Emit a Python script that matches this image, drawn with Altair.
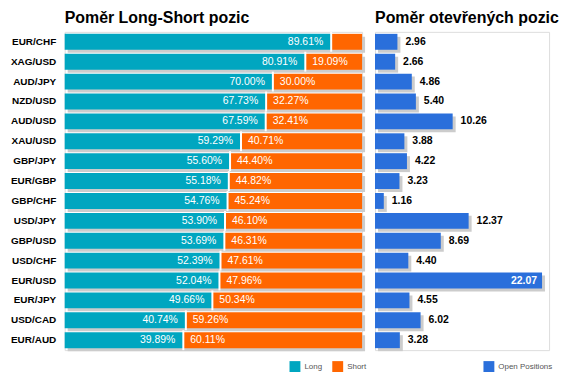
import altair as alt
import pandas as pd

pairs = ["EUR/CHF", "XAG/USD", "AUD/JPY", "NZD/USD", "AUD/USD", "XAU/USD", "GBP/JPY", "EUR/GBP",
         "GBP/CHF", "USD/JPY", "GBP/USD", "USD/CHF", "EUR/USD", "EUR/JPY", "USD/CAD", "EUR/AUD"]
long_pct = [89.61, 80.91, 70.00, 67.73, 67.59, 59.29, 55.60, 55.18,
            54.76, 53.90, 53.69, 52.39, 52.04, 49.66, 40.74, 39.89]
short_pct = [10.39, 19.09, 30.00, 32.27, 32.41, 40.71, 44.40, 44.82,
             45.24, 46.10, 46.31, 47.61, 47.96, 50.34, 59.26, 60.11]
open_pos = [2.96, 2.66, 4.86, 5.40, 10.26, 3.88, 4.22, 3.23,
            1.16, 12.37, 8.69, 4.40, 22.07, 4.55, 6.02, 3.28]

TEAL = "#00A6C0"
ORANGE = "#FF6600"
BLUE = "#2A6FDB"
SHADOW = "#CCCCCC"
FONT = "Liberation Sans"

rows = []
for p, l, s in zip(pairs, long_pct, short_pct):
    rows.append({"pair": p, "side": "Long", "start": 0.0, "end": l, "val": l, "full": 100.0})
    rows.append({"pair": p, "side": "Short", "start": l, "end": 100.0, "val": s, "full": 100.0})
ls = pd.DataFrame(rows)
op = pd.DataFrame({"pair": pairs, "open": open_pos})

yscale = alt.Scale(domain=pairs, paddingInner=0.2, paddingOuter=0.1)
xls = alt.Scale(domain=[0, 100], nice=False)

y_left = alt.Y("pair:N", sort=pairs, scale=yscale,
               axis=alt.Axis(title=None, domain=False, ticks=False, labelFontSize=10,
                             labelFontWeight="bold", labelColor="black", labelFont=FONT,
                             labelPadding=9, minExtent=51, maxExtent=51))
y_none = alt.Y("pair:N", sort=pairs, scale=yscale, axis=None)

base_l = alt.Chart(ls)

shadow_l = base_l.transform_filter("datum.side == 'Long'").mark_bar(
    color=SHADOW, xOffset=3, x2Offset=3, yOffset=3, y2Offset=3
).encode(x=alt.X("start:Q", scale=xls, axis=None), x2="full:Q", y=y_left)

bars_l = base_l.mark_bar().encode(
    x=alt.X("start:Q", scale=xls, axis=None),
    x2="end:Q",
    y=y_left,
    color=alt.Color("side:N", scale=alt.Scale(domain=["Long", "Short"], range=[TEAL, ORANGE]),
                    legend=alt.Legend(title=None, orient="none", direction="horizontal",
                                      legendX=226, legendY=331, symbolType="square",
                                      symbolSize=120, symbolStrokeWidth=0, labelFontSize=8,
                                      labelColor="#555555", labelFont=FONT, labelOffset=4,
                                      columnPadding=10)),
)

gap_l = base_l.transform_filter("datum.side == 'Short'").mark_bar(
    color="white", xOffset=-1, x2Offset=1, size=20
).encode(x=alt.X("start:Q", scale=xls, axis=None), x2="start:Q", y=y_left)

long_lbl = base_l.transform_filter("datum.side == 'Long'").transform_calculate(
    lbl="format(datum.val, '.2f') + '%'"
).mark_text(align="right", baseline="middle", dx=-8, color="white", fontSize=10.5, font=FONT
).encode(x=alt.X("end:Q", scale=xls, axis=None), y=y_left, text="lbl:N")

short_lbl = base_l.transform_filter("datum.side == 'Short' && datum.val > 15").transform_calculate(
    lbl="format(datum.val, '.2f') + '%'"
).mark_text(align="left", baseline="middle", dx=7, color="white", fontSize=10.5, font=FONT
).encode(x=alt.X("start:Q", scale=xls, axis=None), y=y_left, text="lbl:N")

title_style = dict(anchor="start", frame="group", fontSize=16, fontWeight="bold", font=FONT,
                   color="black", offset=6)

left = alt.layer(shadow_l, bars_l, gap_l, long_lbl, short_lbl).properties(
    width=299, height=320,
    title=alt.TitleParams("Poměr Long-Short pozic", **title_style),
)

xr = alt.Scale(domain=[0, 23], nice=False)
base_r = alt.Chart(op).transform_calculate(series="'Open Positions'").transform_joinaggregate(
    mx="max(open)")

shadow_r = base_r.mark_bar(color=SHADOW, xOffset=3, x2Offset=3, yOffset=3, y2Offset=3).encode(
    x=alt.X("open:Q", scale=xr, axis=None), y=y_none)

bars_r = base_r.mark_bar().encode(
    x=alt.X("open:Q", scale=xr, axis=None), y=y_none,
    color=alt.Color("series:N", scale=alt.Scale(domain=["Open Positions"], range=[BLUE]),
                    legend=alt.Legend(title=None, orient="none", direction="horizontal",
                                      legendX=109, legendY=331, symbolType="square",
                                      symbolSize=120, symbolStrokeWidth=0, labelFontSize=8,
                                      labelColor="#555555", labelFont=FONT, labelOffset=4)),
)

out_lbl = base_r.transform_filter("datum.open < datum.mx").mark_text(
    align="left", baseline="middle", dx=8, color="black", fontSize=10.5, fontWeight="bold", font=FONT
).encode(x=alt.X("open:Q", scale=xr, axis=None), y=y_none, text=alt.Text("open:Q", format=".2f"))

in_lbl = base_r.transform_filter("datum.open == datum.mx").mark_text(
    align="right", baseline="middle", dx=-5, color="white", fontSize=10.5, fontWeight="bold", font=FONT
).encode(x=alt.X("open:Q", scale=xr, axis=None), y=y_none, text=alt.Text("open:Q", format=".2f"))

right = alt.layer(shadow_r, bars_r, out_lbl, in_lbl).properties(
    width=175, height=320,
    title=alt.TitleParams("Poměr otevřených pozic", **title_style),
)

chart = alt.hconcat(left, right, spacing=6).resolve_scale(color="independent").configure_view(
    stroke="transparent").configure(font=FONT).properties(
    padding={"left": 1, "top": 0, "right": 4, "bottom": 0})

chart.save("out.html", embed_options={"renderer": "svg", "actions": False})
